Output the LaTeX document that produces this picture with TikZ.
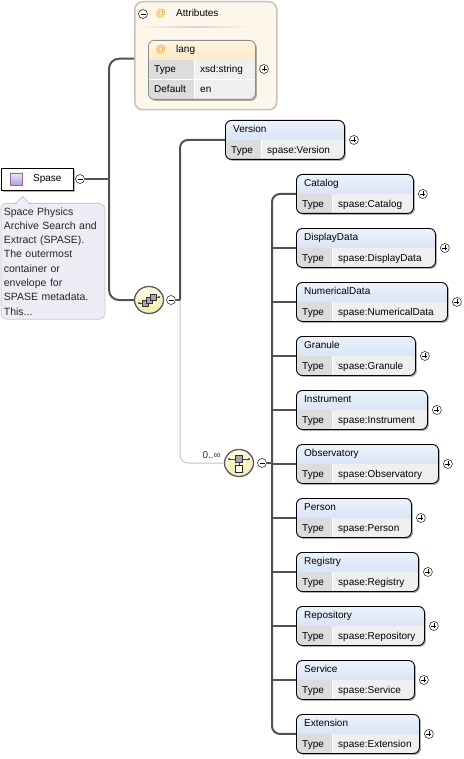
\documentclass[tikz,border=0pt]{standalone}
\usepackage{fontspec}
\setmainfont{Liberation Sans}
\usetikzlibrary{shapes.geometric,shadows,calc}

\definecolor{connc}{HTML}{525252}
\definecolor{optc}{HTML}{C4C4C4}
\definecolor{hdtop}{HTML}{EDF3FC}
\definecolor{hdbot}{HTML}{C3D5F0}
\definecolor{keyc}{HTML}{DCDCDC}
\definecolor{valc}{HTML}{EFEFEF}
\definecolor{attrfill}{HTML}{FDF6EA}
\definecolor{attrline}{HTML}{C8C2B6}
\definecolor{atc}{HTML}{F09A18}
\definecolor{langtop}{HTML}{FFF5E2}
\definecolor{langbot}{HTML}{FCD48A}
\definecolor{notefill}{HTML}{EFECF5}
\definecolor{noteline}{HTML}{CBC4D9}
\definecolor{compotop}{HTML}{FFFDE8}
\definecolor{compobot}{HTML}{F4EBAC}
\definecolor{icontop}{HTML}{EEE8F8}
\definecolor{iconbot}{HTML}{AE9FD6}

\tikzset{
  txt/.style={inner sep=0pt, font=\fontsize{10}{12}\selectfont, text height=7.5pt, text depth=2pt},
  conn/.style={draw=connc, line width=2pt},
  optconn/.style={draw=optc, line width=1pt},
  boxshadow/.style={drop shadow={shadow xshift=1.5pt, shadow yshift=-1.5pt, fill=black, opacity=0.3}},
  elembox/.style={draw=black, line width=0.9pt, rounded corners=6pt, minimum height=39pt,
    inner sep=0pt, anchor=north west, boxshadow,
    path picture={
      \shade[sharp corners, top color=hdtop, bottom color=hdbot] (path picture bounding box.north west)
        rectangle ([yshift=-20pt]path picture bounding box.north east);
      \fill[sharp corners, keyc] ([yshift=-20pt]path picture bounding box.north west)
        rectangle ([xshift=36pt]path picture bounding box.south west);
      \fill[sharp corners, valc] ([xshift=36pt,yshift=-20pt]path picture bounding box.north west)
        rectangle (path picture bounding box.south east);
      \draw[sharp corners, white, line width=0.8pt] ([xshift=36pt,yshift=-20pt]path picture bounding box.north west)
        -- ([xshift=36pt]path picture bounding box.south west);
    }},
  langbox/.style={draw=black!45, line width=0.8pt, rounded corners=6pt, inner sep=0pt,
    anchor=north west, boxshadow,
    path picture={
      \shade[sharp corners, top color=langtop, bottom color=langbot] (path picture bounding box.north west)
        rectangle ([yshift=-20pt]path picture bounding box.north east);
      \fill[sharp corners, keyc] ([yshift=-20pt]path picture bounding box.north west)
        rectangle ([xshift=46pt]path picture bounding box.south west);
      \fill[sharp corners, valc] ([xshift=46pt,yshift=-20pt]path picture bounding box.north west)
        rectangle (path picture bounding box.south east);
      \draw[sharp corners, white, line width=0.8pt] ([xshift=46pt,yshift=-20pt]path picture bounding box.north west)
        -- ([xshift=46pt]path picture bounding box.south west);
      \draw[sharp corners, white, line width=0.8pt] ([yshift=-39.5pt]path picture bounding box.north west)
        -- ([yshift=-39.5pt]path picture bounding box.north east);
    }},
  pmark/.style={circle, draw=black!80, fill=white, line width=0.6pt, minimum size=9pt, inner sep=0pt},
  plusc/.style={pmark, path picture={
      \draw[black, line width=0.7pt] ([xshift=-2.5pt]path picture bounding box.center)
        -- ([xshift=2.5pt]path picture bounding box.center)
        ([yshift=-2.5pt]path picture bounding box.center) -- ([yshift=2.5pt]path picture bounding box.center);}},
  minusc/.style={pmark, path picture={
      \draw[black, line width=0.7pt] ([xshift=-2.5pt]path picture bounding box.center)
        -- ([xshift=2.5pt]path picture bounding box.center);}},
  compo/.style={ellipse, draw=black!65, line width=1.3pt, top color=compotop, bottom color=compobot,
    minimum width=29pt, minimum height=27pt, inner sep=0pt},
  attrbox/.style={draw=attrline, line width=1.5pt, fill=attrfill, rounded corners=8pt, inner sep=0pt, anchor=north west},
  spasebox/.style={draw=black, line width=1.2pt, fill=white, inner sep=0pt, anchor=north west, boxshadow},
  spaseicon/.style={draw=black!35!violet!60, line width=0.6pt, top color=icontop, bottom color=iconbot,
    minimum size=12pt, inner sep=0pt},
  notebox/.style={draw=noteline, fill=notefill, line width=0.8pt, rounded corners=6pt, anchor=north west,
    align=left, text width=98pt, inner xsep=3pt, inner ysep=4pt, font=\fontsize{10.5}{14.3}\selectfont, text=black!85},
  atmark/.style={txt, text=atc},
}

% element with a type row
\newcommand{\typedbox}[6]{%
  \node[elembox, minimum width=#4pt] (#1) at (#2,#3) {};
  \node[txt, anchor=west] (#1-name) at ([xshift=8pt,yshift=-10pt]#1.north west) {#5};
  \node[txt, anchor=west] (#1-key) at ([xshift=6pt,yshift=9.5pt]#1.south west) {Type};
  \node[txt, anchor=west] (#1-val) at ([xshift=42pt,yshift=9.5pt]#1.south west) {#6};
  \node[plusc] (#1-plus) at ([xshift=9pt]#1.east) {};
}

\begin{document}
\begin{tikzpicture}[x=1pt, y=-1pt]
  \fill[white] (0,0) rectangle (463,759);
  \useasboundingbox (0,0) rectangle (463,759);

  % Attributes
  \node[attrbox, minimum width=142pt, minimum height=108pt] (attrs) at (134,1) {};
  \node[minusc] (attrs-minus) at (143,14) {};
  \node[atmark] (attrs-at) at (161,14) {@};
  \node[txt, anchor=west] (attrs-title) at (176,14) {Attributes};
  \shade[left color=attrfill, right color=attrfill, middle color=attrline!70] (139,26.5) rectangle (250,28);

  \node[langbox, minimum width=107pt, minimum height=59pt] (lang) at (148,40) {};
  \node[atmark] (lang-at) at (161,50) {@};
  \node[txt, anchor=west] (lang-name) at (176,50) {lang};
  \node[txt, anchor=west] (lang-key) at (154,70) {Type};
  \node[txt, anchor=west] (lang-val) at (200,70) {xsd:string};
  \node[txt, anchor=west] (lang-dkey) at (154,89.5) {Default};
  \node[txt, anchor=west] (lang-dval) at (200,89.5) {en};
  \node[plusc] (lang-plus) at (264,69) {};

  % Spase root and its note
  \node[spasebox, minimum width=72pt, minimum height=22pt] (spase) at (0.6,168) {};
  \node[spaseicon] (spase-icon) at (16,179) {};
  \node[txt, anchor=west] (spase-name) at (33,179) {Spase};
  \node[minusc] (spase-minus) at (80,179) {};

  \node[notebox] (note) at (0.5,203) {Space Physics\\Archive Search and\\Extract (SPASE).\\The outermost\\container or\\envelope for\\SPASE metadata.\\This...};
  \fill[notefill] (16.5,203.8) -- (22.5,196.5) -- (28.5,203.8) -- cycle;
  \draw[noteline, line width=0.8pt] (16,203) -- (22.5,196.5) -- (29,203);

  % sequence
  \node[compo] (seq) at (149,300) {};
  \node[minusc] (seq-minus) at (171,300) {};
  \draw[black!75, line width=0.8pt] ($(seq)+(-10,3)$) -- ($(seq)+(-7,3)$) ($(seq)+(7,-3)$) -- ($(seq)+(10,-3)$);
  \fill[black!75] ($(seq)+(-10,3)$) circle (1.1pt) ($(seq)+(10,-3)$) circle (1.1pt);
  \foreach \i in {0,1,2}
    \filldraw[fill=black!35, draw=black!80, line width=0.6pt] ($(seq)+(-7+4*\i,6-3*\i)$) rectangle ++(6,-6);

  % choice
  \node[compo] (choice) at (239,463) {};
  \node[minusc] (choice-minus) at (262,463) {};
  \draw[black!75, line width=0.8pt] ($(choice)+(-10,-4)$) -- ($(choice)+(10,-4)$) ($(choice)+(0,-1)$) -- ($(choice)+(0,2)$);
  \fill[black!75] ($(choice)+(-10,-4)$) circle (1.1pt) ($(choice)+(10,-4)$) circle (1.1pt);
  \filldraw[fill=black!35, draw=black!80, line width=0.6pt] ($(choice)+(-3.5,-0.5)$) rectangle ++(7,-7);
  \filldraw[fill=white, draw=black!85, line width=0.7pt] ($(choice)+(-3.5,9)$) rectangle ++(7,-7);
  \node[txt, anchor=east, text=black!80] (mult) at (221,456) {0..∞};

  % children
  \typedbox{version}{225}{120}{119}{Version}{spase:Version}
  \foreach \nm/\w/\lb [count=\k from 0] in {catalog/117/Catalog, displaydata/139/DisplayData,
      numericaldata/151/NumericalData, granule/119/Granule, instrument/131/Instrument,
      observatory/142/Observatory, person/115/Person, registry/122/Registry,
      repository/128/Repository, service/118/Service, extension/123/Extension}
    \typedbox{\nm}{296}{174+54*\k}{\w}{\lb}{spase:\lb};

  % connectors
  \coordinate (sbus) at (109,179);
  \coordinate (qbus) at (180,300);
  \coordinate (cbus) at (272,463);
  \draw[conn] (spase-minus.east) -- (sbus);
  \draw[conn, rounded corners=10pt] (sbus) |- ([yshift=-3pt]attrs.west);
  \draw[conn, rounded corners=10pt] (sbus) |- (seq.west);
  \draw[optconn, rounded corners=8pt] (qbus) |- (choice.west);
  \draw[conn] (seq-minus.east) -- (qbus);
  \draw[conn, rounded corners=8pt] (qbus) |- (version.west);
  \draw[conn] (choice-minus.east) -- (cbus);
  \draw[conn, rounded corners=8pt] (cbus) |- (catalog.west);
  \draw[conn, rounded corners=8pt] (cbus) |- (extension.west);
  \foreach \nm in {displaydata, numericaldata, granule, instrument, observatory,
      person, registry, repository, service}
    \draw[conn] (\nm.west -| cbus) -- (\nm.west);
\end{tikzpicture}
\end{document}
